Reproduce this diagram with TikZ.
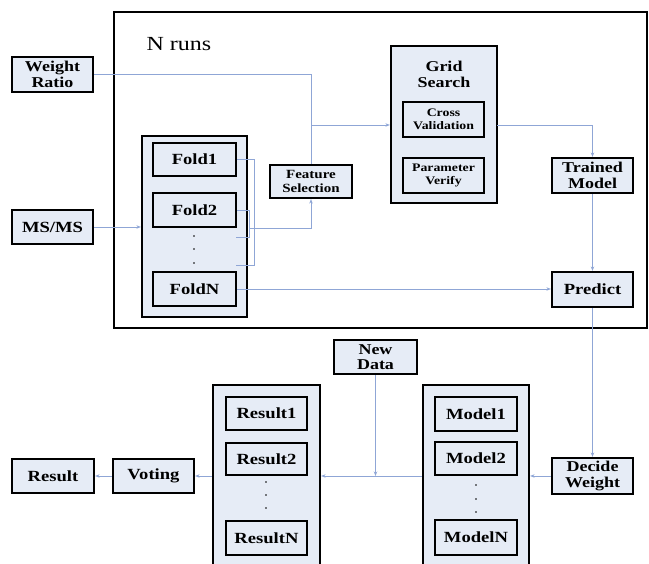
\documentclass[tikz,border=0pt]{standalone}
\usepackage{fontspec}
\setmainfont{Liberation Serif}[FakeStretch=1.2]
\usetikzlibrary{arrows.meta}
\definecolor{boxfill}{HTML}{E6ECF6}
\definecolor{linkc}{HTML}{8FA6D6}
\begin{document}
\begin{tikzpicture}[x=1pt,y=-1pt,
  box/.style={draw=black,line width=2.2pt,fill=boxfill,inner sep=0pt,align=center,
    font=\fontsize{15.5}{16}\selectfont\bfseries},
  twoline/.style={box,font=\fontsize{15}{15.5}\selectfont\bfseries},
  small/.style={box,font=\fontsize{11.5}{13.5}\selectfont\bfseries},
  panel/.style={draw=black,line width=2.2pt,fill=boxfill,inner sep=0pt},
  link/.style={draw=linkc,line width=0.9pt},
  arr/.style={link,-{Stealth[length=4.5pt,width=3.5pt]}},
  dot/.style={fill=black,circle,inner sep=0pt,minimum size=1.6pt}]
\useasboundingbox (0,0) rectangle (649,564);
\clip (0,0) rectangle (649,564);
% outer frame
\node[draw=black,line width=2.2pt,minimum width=533pt,minimum height=316pt] (outer) at (380.5,170) {};
\node[font=\fontsize{20}{22}\selectfont] (nruns) at (179,44) {N runs};
% left inputs
\node[twoline,minimum width=81pt,minimum height=35pt] (wr) at (52.5,74.5) {Weight\\Ratio};
\node[box,minimum width=81pt,minimum height=34pt] (msms) at (52.5,227) {MS/MS};
% fold panel
\node[panel,minimum width=105pt,minimum height=181pt] (foldpanel) at (194.5,226.5) {};
\node[box,minimum width=83pt,minimum height=33pt] (fold1) at (194.5,159.5) {Fold1};
\node[box,minimum width=83pt,minimum height=34pt] (fold2) at (194.5,210) {Fold2};
\node[box,minimum width=83pt,minimum height=34pt] (foldN) at (194.5,289) {FoldN};
\node[dot] (fd1) at (194,236) {};
\node[dot] (fd2) at (194,249) {};
\node[dot] (fd3) at (194,263) {};
% feature selection
\node[small,font=\fontsize{12.5}{14}\selectfont\bfseries,minimum width=82pt,minimum height=33pt] (fs) at (311,181.5) {Feature\\Selection};
% grid search
\node[panel,minimum width=106pt,minimum height=157pt] (grid) at (444,124.5) {};
\node[font=\fontsize{15}{16}\selectfont\bfseries,align=center] (gridlbl) at (444,74) {Grid\\Search};
\node[small,minimum width=81pt,minimum height=35pt] (cv) at (443.5,119.5) {Cross\\Validation};
\node[small,minimum width=81pt,minimum height=35pt] (pv) at (443.5,175.5) {Parameter\\Verify};
% right column
\node[twoline,minimum width=81pt,minimum height=35pt] (tm) at (592.5,175.5) {Trained\\Model};
\node[box,minimum width=81pt,minimum height=35pt] (pred) at (592.5,289.5) {Predict};
% bottom
\node[twoline,minimum width=83pt,minimum height=34pt] (nd) at (375.5,357) {New\\Data};
\node[panel,minimum width=106pt,minimum height=186pt] (modelpanel) at (476,478) {};
\node[box,minimum width=82pt,minimum height=34pt] (m1) at (476,414) {Model1};
\node[box,minimum width=82pt,minimum height=33pt] (m2) at (476,458.5) {Model2};
\node[box,minimum width=82pt,minimum height=35pt] (mN) at (476,537.5) {ModelN};
\node[dot] (md1) at (476,485) {};
\node[dot] (md2) at (476,499) {};
\node[dot] (md3) at (476,512) {};
\node[twoline,minimum width=81pt,minimum height=36pt] (dw) at (592.5,476) {Decide\\Weight};
\node[panel,minimum width=107pt,minimum height=186pt] (resultpanel) at (266.5,478) {};
\node[box,minimum width=81pt,minimum height=33pt] (r1) at (266.5,413.5) {Result1};
\node[box,minimum width=81pt,minimum height=32pt] (r2) at (266.5,459) {Result2};
\node[box,minimum width=81pt,minimum height=34pt] (rN) at (266.5,538) {ResultN};
\node[dot] (rd1) at (266,482) {};
\node[dot] (rd2) at (266,495) {};
\node[dot] (rd3) at (266,508) {};
\node[box,minimum width=81pt,minimum height=34pt] (voting) at (153.5,476) {Voting};
\node[box,minimum width=82pt,minimum height=34pt] (result) at (53,476) {Result};
% junction coordinates
\coordinate (j1) at (311,74.5);
\coordinate (j2) at (311,125);
\coordinate (b1) at (254,159.5);
\coordinate (b2) at (254,265);
\coordinate (b3) at (236,265);
\coordinate (c1) at (249,210);
\coordinate (c2) at (249,237);
\coordinate (c3) at (236,237);
\coordinate (c4) at (249,228);
\coordinate (c5) at (311,228);
\coordinate (g1) at (497,125);
\coordinate (g2) at (592.5,125);
\coordinate (n1) at (375.5,476);
% connectors
\draw[link] (wr.east) -- (j1) -- (fs.north);
\draw[arr] (j2) -- (j2 -| grid.west);
\draw[arr] (msms.east) -- (msms.east -| foldpanel.west);
\draw[link] (fold1.east) -- (b1) -- (b2) -- (b3);
\draw[link] (fold2.east) -- (c1) -- (c2) -- (c3);
\draw[link] (b1 |- c4) -- (c4);
\draw[arr] (c4) -- (c5) -- (fs.south);
\draw[arr] (foldN.east) -- (foldN.east -| pred.west);
\draw[arr] (g1) -- (g2) -- (tm.north);
\draw[arr] (tm.south) -- (pred.north);
\draw[arr] (pred.south) -- (dw.north);
\draw[arr] (dw.west) -- (dw.west -| modelpanel.east);
\draw[arr] (dw.west -| modelpanel.west) -- (dw.west -| resultpanel.east);
\draw[arr] (nd.south) -- (n1);
\draw[arr] (dw.west -| resultpanel.west) -- (voting.east);
\draw[arr] (voting.west) -- (result.east);
\end{tikzpicture}
\end{document}
